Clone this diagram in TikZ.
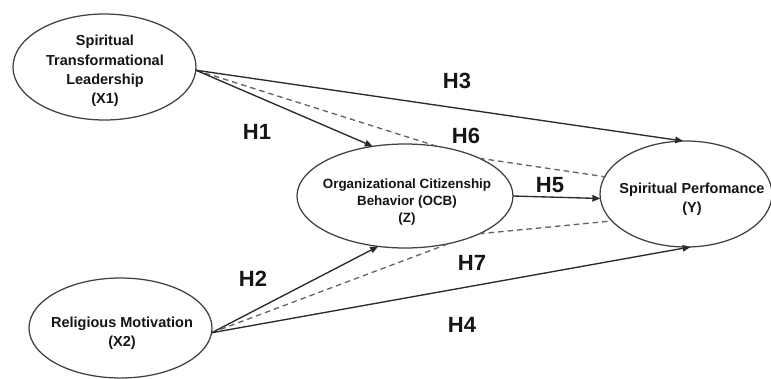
\documentclass[tikz,border=0pt]{standalone}
\usepackage{fontspec}
\setmainfont{Liberation Sans}
\usetikzlibrary{shapes.geometric,arrows.meta}
\definecolor{ellc}{HTML}{404040}
\definecolor{linec}{HTML}{2B2B2B}
\definecolor{dashc}{HTML}{626262}
\definecolor{txtc}{HTML}{151515}
\begin{document}
\begin{tikzpicture}[x=1pt,y=-1pt,
  latent/.style={ellipse, draw=ellc, line width=1.25pt, inner sep=0pt, outer sep=0pt},
  txt/.style={font=\bfseries\fontsize{14.5}{19.3}\selectfont, align=center, text=txtc, inner sep=0pt},
  txtsmall/.style={font=\bfseries\fontsize{13.4}{17.4}\selectfont, align=center, text=txtc, inner sep=0pt},
  hyp/.style={font=\bfseries\fontsize{22}{26}\selectfont, text=txtc, inner sep=0pt},
  direct/.style={draw=linec, line width=1.35pt, -{Triangle[length=8pt,width=6.5pt]}},
  indirect/.style={draw=dashc, line width=1.3pt, dash pattern=on 5.5pt off 4pt}]
\useasboundingbox (0,0) rectangle (771,378);
\fill[white] (0,0) rectangle (771,378);

% latent variables
\node[latent, minimum width=183pt, minimum height=106pt] (x1) at (104.5,67) {};
\node[latent, minimum width=216pt, minimum height=104pt] (ocb) at (405,196) {};
\node[latent, minimum width=172pt, minimum height=106pt] (y) at (686,194) {};
\node[latent, minimum width=183pt, minimum height=100pt] (x2) at (120.5,328) {};

% texts
\node[txt] (tx1) at (105,71) {Spiritual\\Transformational\\Leadership\\(X1)};
\node[txtsmall] (tocb) at (407,202) {Organizational Citizenship\\Behavior (OCB)\\(Z)};
\node[txt] (ty) at (692,199) {Spiritual Perfomance\\(Y)};
\node[txt] (tx2) at (122,333) {Religious Motivation\\(X2)};

% indirect (dashed) paths
\draw[indirect] (x1.-2) -- (ocb.57);
\draw[indirect] (ocb.27) -- (y.168.6);
\draw[indirect] (x2.-3) -- (ocb.313.6);
\draw[indirect] (ocb.333.5) -- (y.200.8);

% direct paths
\draw[direct] (x1.-2) -- (ocb.123);
\draw[direct] (x1.-2) -- (y.93);
\draw[direct] (x2.-3) -- (ocb.242);
\draw[direct] (x2.-3) -- (y.275);
\draw[direct] (ocb.east) -- (y.183);

% hypothesis labels
\node[hyp] (h1) at (257,132) {H1};
\node[hyp] (h2) at (253,279) {H2};
\node[hyp] (h3) at (457,81) {H3};
\node[hyp] (h4) at (462,325) {H4};
\node[hyp] (h5) at (550,185) {H5};
\node[hyp] (h6) at (466,136) {H6};
\node[hyp] (h7) at (472,263) {H7};
\end{tikzpicture}
\end{document}
